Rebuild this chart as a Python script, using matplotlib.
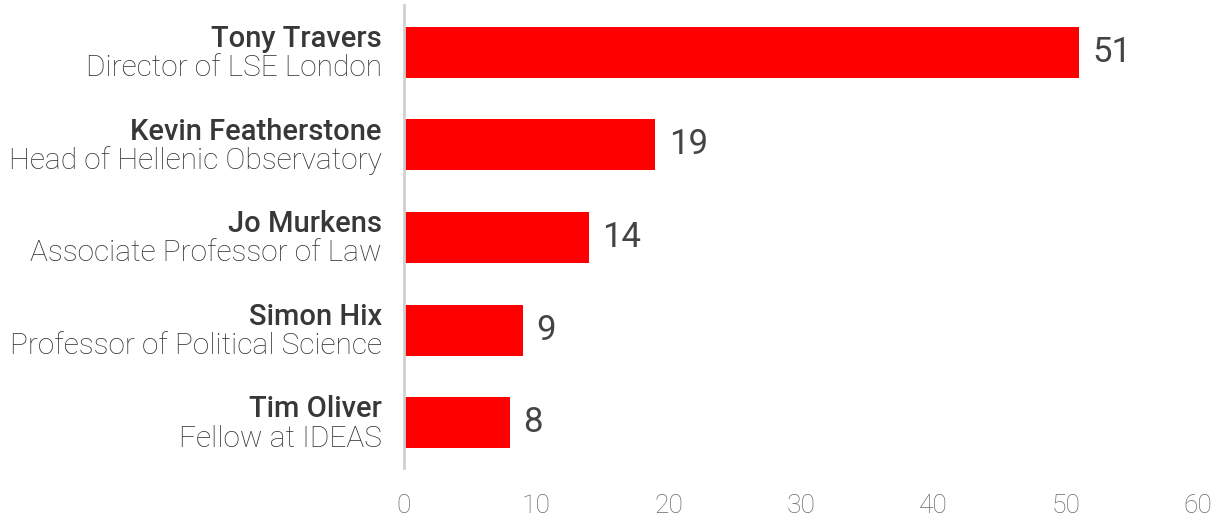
import matplotlib.pyplot as plt

names = ["Tony Travers", "Kevin Featherstone", "Jo Murkens", "Simon Hix", "Tim Oliver"]
roles = ["Director of LSE London", "Head of Hellenic Observatory",
         "Associate Professor of Law", "Professor of Political Science", "Fellow at IDEAS"]
mentions = [51, 19, 14, 9, 8]
xticks = [0, 10, 20, 30, 40, 50, 60]

plt.rcParams['font.family'] = ['Roboto', 'DejaVu Sans']

fig = plt.figure(figsize=(12.28, 5.22), dpi=100)
ax = fig.add_axes([0.329, 0.1034, 0.6466, 0.887])

ypos = list(range(len(names)))
ax.barh(ypos, mentions, height=0.55, color='#ff0000')
ax.set_ylim(4.49, -0.51)
ax.set_xlim(0, 60)

for y, name, role, v in zip(ypos, names, roles, mentions):
    # name on top, role underneath, both right-aligned left of the axis
    ax.annotate(name, (0, y), xytext=(-16, 9.5), textcoords='offset points',
                ha='right', va='center', fontsize=21, fontweight='medium', color='#383838')
    ax.annotate(role, (0, y), xytext=(-16, -11.5), textcoords='offset points',
                ha='right', va='center', fontsize=21.5, fontweight='light', color='#333333')
    ax.annotate(str(v), (v, y), xytext=(9.5, 0), textcoords='offset points',
                ha='left', va='center', fontsize=25, color='#444444')

ax.set_xticks(xticks)
ax.set_xticklabels([str(t) for t in xticks], fontsize=19, fontweight='light', color='#6a6a6a')
ax.tick_params(axis='x', length=0, pad=19)
ax.set_yticks([])
for s in ['top', 'right', 'bottom']:
    ax.spines[s].set_visible(False)
ax.spines['left'].set_color('#d0d0d0')
ax.spines['left'].set_linewidth(2)

fig.savefig("out.png", dpi=100)
